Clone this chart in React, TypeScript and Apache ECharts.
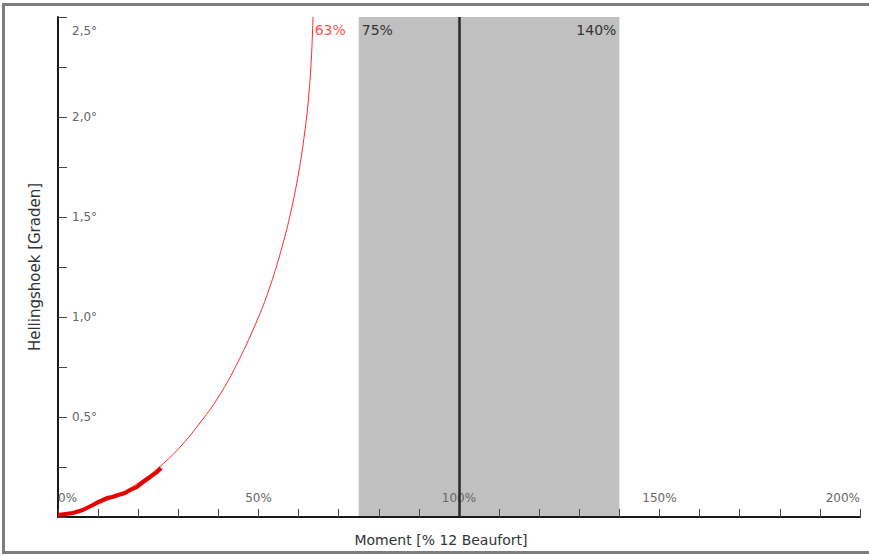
import React, { useEffect, useRef } from "react";
import * as echarts from "echarts";

// Tick labels shown on the axes
const xLabelTicks = [0, 50, 100, 150, 200];
const yLabelTicks = [0.5, 1, 1.5, 2, 2.5];

// Theoretical heel curve: [moment %, heel degrees]
const curvePoints: [number, number][] = [
  [0, 0], [5, 0.03], [10, 0.065], [15, 0.11], [20, 0.17], [25, 0.245],
  [30, 0.34], [35, 0.46], [40, 0.6], [45, 0.78], [50, 1.0], [53, 1.16],
  [56, 1.36], [58, 1.52], [60, 1.72], [61.5, 1.92], [62.5, 2.1], [63.2, 2.3],
  [63.6, 2.5],
];

// Measured points: [moment %, heel degrees]
const measuredPoints: [number, number][] = [
  [0, 0.01], [3.7, 0.02], [6.2, 0.035], [8.7, 0.06], [10, 0.075],
  [12.2, 0.095], [13.5, 0.1], [15, 0.11], [16.7, 0.12], [18, 0.135],
  [19.7, 0.15], [21.2, 0.175], [23, 0.2], [24.7, 0.225], [25.7, 0.245],
];

const bandRange: [number, number] = [75, 140];
const referenceMoment = 100;
const limitMoment = 63;
const yMax = 2.5;
const xTitle = "Moment [% 12 Beaufort]";
const yTitle = "Hellingshoek [Graden]";

const FONT = "DejaVu Sans";

export default function App() {
  const ref = useRef<HTMLDivElement>(null);

  useEffect(() => {
    if (!ref.current) return;
    const chart = echarts.init(ref.current, undefined, { renderer: "svg" });

    const isTick = (list: number[], v: number) =>
      list.some((t) => Math.abs(t - v) < 1e-6);

    chart.setOption({
      animation: false,
      backgroundColor: "#ffffff",
      grid: { left: 58, right: 9, top: 17, bottom: 39, containLabel: false },
      xAxis: {
        type: "value",
        min: 0,
        max: 200,
        interval: 10,
        z: 3,
        name: xTitle,
        nameLocation: "middle",
        nameGap: 16,
        nameTextStyle: {
          fontFamily: FONT,
          fontSize: 14,
          color: "#333",
          padding: [0, 36, 0, 0],
        },
        axisLine: { lineStyle: { color: "#1a1a1a", width: 2 } },
        axisTick: { inside: true, length: 8, lineStyle: { color: "#444" } },
        axisLabel: {
          inside: true,
          margin: 13,
          fontFamily: FONT,
          fontSize: 12,
          color: "#666",
          showMinLabel: true,
          showMaxLabel: true,
          alignMinLabel: "left",
          alignMaxLabel: "right",
          formatter: (v: number) => (isTick(xLabelTicks, v) ? `${v}%` : ""),
        },
        splitLine: { show: false },
      },
      yAxis: {
        type: "value",
        min: 0,
        max: yMax,
        interval: 0.25,
        z: 3,
        name: yTitle,
        nameLocation: "middle",
        nameGap: 16,
        nameTextStyle: { fontFamily: FONT, fontSize: 15, color: "#333" },
        axisLine: { lineStyle: { color: "#1a1a1a", width: 2 } },
        axisTick: { inside: true, length: 9, lineStyle: { color: "#444" } },
        axisLabel: {
          inside: true,
          margin: 14,
          fontFamily: FONT,
          fontSize: 12,
          color: "#666",
          showMaxLabel: true,
          formatter: (v: number) => {
            if (!isTick(yLabelTicks, v)) return "";
            const s = v.toFixed(1).replace(".", ",") + "°";
            return Math.abs(v - yMax) < 1e-6 ? `{top|${s}}` : s;
          },
          rich: {
            top: {
              padding: [28, 0, 0, 0],
              fontFamily: FONT,
              fontSize: 12,
              color: "#666",
            },
          },
        },
        splitLine: { show: false },
      },
      series: [
        {
          type: "line",
          name: "band",
          data: [],
          silent: true,
          z: 1,
          markArea: {
            silent: true,
            itemStyle: { color: "#c0c0c0", opacity: 1 },
            label: { show: false },
            data: [[{ xAxis: bandRange[0] }, { xAxis: bandRange[1] }]],
          },
        },
        {
          type: "line",
          name: "curve",
          data: curvePoints,
          smooth: 0.4,
          showSymbol: false,
          lineStyle: { color: "#ff2a2a", width: 1 },
          z: 2,
          markPoint: {
            symbol: "circle",
            symbolSize: 0,
            silent: true,
            data: [
              {
                coord: [limitMoment, yMax],
                label: {
                  show: true,
                  position: "right",
                  distance: 4,
                  offset: [0, 13],
                  formatter: `${limitMoment}%`,
                  fontFamily: FONT,
                  fontSize: 14,
                  color: "#ff5050",
                },
              },
              {
                coord: [bandRange[0], yMax],
                label: {
                  show: true,
                  position: "right",
                  distance: 3,
                  offset: [0, 13],
                  formatter: `${bandRange[0]}%`,
                  fontFamily: FONT,
                  fontSize: 14,
                  color: "#333",
                },
              },
              {
                coord: [bandRange[1], yMax],
                label: {
                  show: true,
                  position: "left",
                  distance: 3,
                  offset: [0, 13],
                  formatter: `${bandRange[1]}%`,
                  fontFamily: FONT,
                  fontSize: 14,
                  color: "#333",
                },
              },
            ],
          },
        },
        {
          type: "line",
          name: "measured",
          data: measuredPoints,
          showSymbol: false,
          lineStyle: { color: "#e60000", width: 4 },
          z: 3,
        },
        {
          type: "line",
          name: "reference",
          data: [],
          z: 5,
          markLine: {
            silent: true,
            symbol: "none",
            label: { show: false },
            lineStyle: { color: "#2a2a2a", width: 2.5, type: "solid" },
            data: [{ xAxis: referenceMoment }],
          },
        },
      ],
      graphic: [
        {
          type: "rect",
          silent: true,
          shape: { x: 3.5, y: 4.5, width: 900, height: 548 },
          style: { fill: "none", stroke: "#7d7d7d", lineWidth: 3 },
          z: 10,
        },
      ],
    });

    return () => chart.dispose();
  }, []);

  return (
    <div
      ref={ref}
      style={{ position: "fixed", left: 0, top: 0, width: 869, height: 556 }}
    />
  );
}
